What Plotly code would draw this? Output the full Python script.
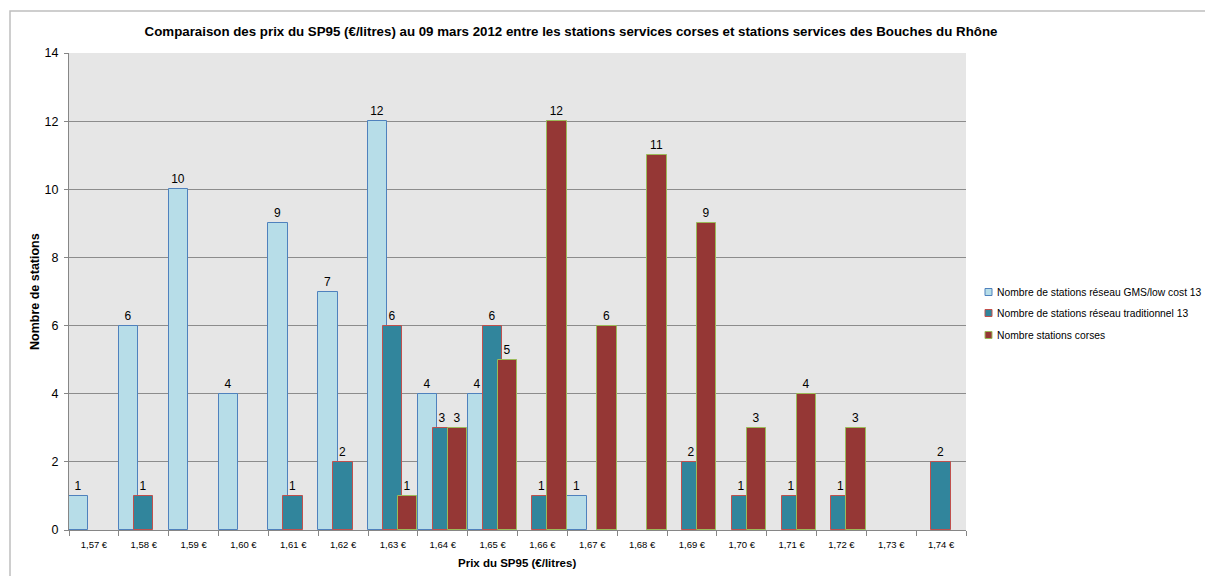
import plotly.graph_objects as go

# Prix du SP95 (catégories) et nombre de stations par réseau
prix = ["1,57 €", "1,58 €", "1,59 €", "1,60 €", "1,61 €", "1,62 €", "1,63 €", "1,64 €", "1,65 €",
        "1,66 €", "1,67 €", "1,68 €", "1,69 €", "1,70 €", "1,71 €", "1,72 €", "1,73 €", "1,74 €"]
gms_low_cost_13 = [1, 6, 10, 4, 9, 7, 12, 4, 4, None, 1, None, None, None, None, None, None, None]
traditionnel_13 = [None, 1, None, None, 1, 2, 6, 3, 6, 1, None, None, 2, 1, 1, 1, None, 2]
stations_corses = [None, None, None, None, None, None, 1, 3, 5, 12, 6, 11, 9, 3, 4, 3, None, None]
y_ticks = [0, 2, 4, 6, 8, 10, 12, 14]

FONT = "Liberation Sans, Arial, sans-serif"

# Dimensions de la zone de tracé (pixels)
W, H = 1205, 576
L, R, T, B = 69, 239, 53, 46
PW, PH = W - L - R, H - T - B


def px_x(px):
    return (px - L) / PW


def px_y(py):
    return (H - B - py) / PH


series = [
    ("Nombre de stations réseau GMS/low cost 13", gms_low_cost_13, "#B7DDE8", "#4F81BD", -0.5),
    ("Nombre de stations réseau traditionnel 13", traditionnel_13, "#31859C", "#C0504D", -0.2),
    ("Nombre stations corses", stations_corses, "#953735", "#9BBB59", 0.1),
]

fig = go.Figure()
for name, vals, fill, edge, off in series:
    xs = [c for c, v in zip(prix, vals) if v is not None]
    ys = [v for v in vals if v is not None]
    fig.add_trace(go.Bar(
        x=xs, y=ys, name=name,
        offset=off, width=0.39,
        marker=dict(color=fill, line=dict(color=edge, width=1)),
        text=[str(v) for v in ys],
        textposition="outside",
        textfont=dict(family=FONT, size=12, color="#000000"),
        cliponaxis=False,
        showlegend=False,
    ))

# Légende : carrés de couleur et libellés
legend_rows = [292, 313, 335]
for (name, _, fill, edge, _), py in zip(series, legend_rows):
    fig.add_shape(type="rect", xref="paper", yref="paper",
                  x0=px_x(985), x1=px_x(992), y0=px_y(py + 3.5), y1=px_y(py - 3.5),
                  fillcolor=fill, line=dict(color=edge, width=1))
    fig.add_annotation(xref="paper", yref="paper", x=px_x(995), y=px_y(py),
                       xanchor="left", yanchor="middle", showarrow=False,
                       text=name, font=dict(family=FONT, size=10.3, color="#000000"))

# Titres des axes
fig.add_annotation(xref="paper", yref="paper", x=px_x(517), y=px_y(563),
                   xanchor="center", yanchor="middle", showarrow=False,
                   text="<b>Prix du SP95 (€/litres)</b>",
                   font=dict(family=FONT, size=11.5, color="#000000"))
fig.add_annotation(xref="paper", yref="paper", x=px_x(35), y=px_y(292),
                   xanchor="center", yanchor="middle", showarrow=False, textangle=-90,
                   text="<b>Nombre de stations</b>",
                   font=dict(family=FONT, size=12.5, color="#000000"))

# Cadre du graphique
fig.add_shape(type="rect", xref="paper", yref="paper",
              x0=px_x(10), x1=px_x(W + 20), y0=px_y(H + 20), y1=px_y(11),
              line=dict(color="#BFBFBF", width=1.5), fillcolor="rgba(0,0,0,0)", layer="below")

fig.update_layout(
    width=W, height=H,
    margin=dict(l=L, r=R, t=T, b=B, pad=0),
    barmode="overlay",
    paper_bgcolor="#FFFFFF",
    plot_bgcolor="#E6E6E6",
    font=dict(family=FONT, color="#000000"),
    title=dict(
        text="<b>Comparaison des prix du SP95 (€/litres) au 09 mars 2012 entre les stations services corses et stations services des Bouches du Rhône</b>",
        x=571 / W, xanchor="center", y=1 - 31 / H, yanchor="middle",
        font=dict(family=FONT, size=13.3, color="#000000"),
    ),
    showlegend=False,
    bargap=0,
)
fig.update_xaxes(
    type="category", categoryorder="array", categoryarray=prix,
    tickson="boundaries", automargin=False,
    ticks="outside", ticklen=5, tickcolor="#868686",
    showline=True, linecolor="#868686", linewidth=1,
    tickfont=dict(family=FONT, size=9.5, color="#000000"),
    ticklabelstandoff=6,
    showgrid=False, range=[-0.5, len(prix) - 0.5],
)
fig.update_yaxes(
    range=[0, 14], tickvals=y_ticks, automargin=False,
    ticks="outside", ticklen=4, tickcolor="#868686",
    showline=True, linecolor="#868686", linewidth=1,
    gridcolor="#8C8C8C", gridwidth=1, zeroline=False,
    tickfont=dict(family=FONT, size=12.5, color="#000000"),
    ticklabelstandoff=3,
)

fig.write_html("out.html")
